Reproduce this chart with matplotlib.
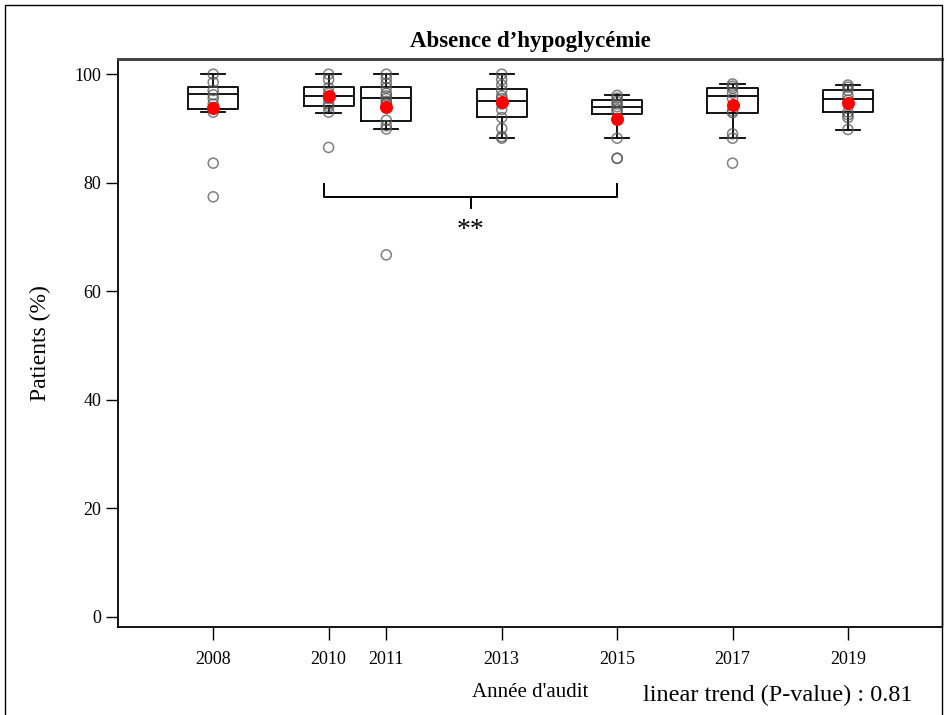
import numpy as np
import matplotlib.pyplot as plt
from matplotlib.patches import Rectangle

plt.rcParams['font.family'] = ['Liberation Serif', 'DejaVu Serif']

# audit years and individual centre values (% patients without hypoglycaemia)
years = [2008, 2010, 2011, 2013, 2015, 2017, 2019]
points = [
    [100, 98.5, 97.0, 96.2, 95.5, 94.5, 93.8, 93.0, 83.6, 77.4],
    [100, 99.0, 97.5, 96.5, 95.5, 94.5, 94.0, 93.0, 86.5],
    [100, 99.2, 98.3, 97.5, 96.5, 96.0, 95.5, 95.0, 94.5, 91.5, 90.5, 89.9, 66.7],
    [100, 99.0, 98.0, 97.0, 96.0, 95.5, 94.5, 93.5, 92.0, 90.0, 88.5, 88.2],
    [96.1, 95.6, 95.0, 94.5, 94.0, 93.5, 93.0, 88.2, 84.5, 84.5],
    [98.2, 97.8, 97.4, 96.5, 95.5, 93.2, 92.9, 89.0, 88.2, 83.6],
    [98.0, 97.6, 97.0, 96.0, 95.2, 93.0, 92.5, 92.0, 89.8],
]

# box summary
q1 = [93.5, 94.1, 91.3, 92.2, 92.7, 92.9, 93.0]
med = [96.3, 95.9, 95.6, 95.1, 93.9, 96.0, 95.5]
q3 = [97.6, 97.7, 97.7, 97.3, 95.2, 97.4, 97.0]
whislo = [93.0, 92.9, 89.9, 88.3, 88.2, 88.2, 89.8]
whishi = [100.0, 100.0, 100.0, 100.0, 96.1, 98.2, 98.0]
means = [93.8, 95.9, 94.0, 94.8, 91.8, 94.4, 94.6]

fig = plt.figure(figsize=(9.47, 7.15), dpi=100)
ax = fig.add_axes([118 / 947, 1 - 627 / 715, (942 - 118) / 947, (627 - 59) / 715])

stats = []
for i in range(len(years)):
    stats.append(dict(med=med[i], q1=q1[i], q3=q3[i], whislo=whislo[i],
                      whishi=whishi[i], mean=means[i], fliers=[]))

ax.bxp(stats, positions=years, widths=0.87, showfliers=False, showmeans=False,
       boxprops=dict(color='black', linewidth=1.3),
       medianprops=dict(color='black', linewidth=1.3),
       whiskerprops=dict(color='black', linewidth=1.3),
       capprops=dict(color='black', linewidth=1.3), capwidths=0.42)

for yr, vals in zip(years, points):
    ax.scatter([yr] * len(vals), vals, s=52, facecolors='none',
               edgecolors='#555555', linewidths=1.1, alpha=0.75, zorder=3)

ax.scatter(years, means, s=70, color='red', zorder=4)

# significance bracket 2010 vs 2015
ax.plot([2009.92, 2009.92, 2015.0, 2015.0], [79.8, 77.3, 77.3, 79.8],
        color='black', lw=1.4)
ax.plot([2012.46, 2012.46], [77.3, 75.4], color='black', lw=1.4)
ax.text(2012.46, 71.2, '**', ha='center', va='center', fontsize=20)

ax.set_xlim(2006.35, 2020.63)
ax.set_ylim(-1.9, 102.8)
ax.set_xticks(years)
ax.set_xticklabels([str(y) for y in years])
ax.set_yticks([0, 20, 40, 60, 80, 100])
ax.tick_params(axis='both', labelsize=13, length=9, width=1, direction='out')
ax.tick_params(axis='y', pad=3)
ax.tick_params(axis='x', pad=8)

for s in ['left', 'bottom']:
    ax.spines[s].set_linewidth(1.3)
ax.spines['top'].set_linewidth(2.2)
ax.spines['top'].set_color('#444444')
ax.spines['right'].set_linewidth(1.0)

ax.set_title('Absence d\u2019hypoglycémie', fontsize=16.5, fontweight='bold', pad=9)
ax.set_ylabel('Patients (%)', fontsize=17, labelpad=17)
ax.set_xlabel("Année d'audit", fontsize=15, labelpad=11)
fig.text(778 / 947, 1 - 695 / 715, 'linear trend (P-value) : 0.81',
         ha='center', va='center', fontsize=17.5)

# outer frame round the figure
fig.patches.append(Rectangle((5 / 947, -0.1), (942 - 5) / 947, 1.1 - 5 / 715,
                             transform=fig.transFigure, fill=False,
                             edgecolor='black', linewidth=1.0))

fig.savefig('out.png', dpi=100)
